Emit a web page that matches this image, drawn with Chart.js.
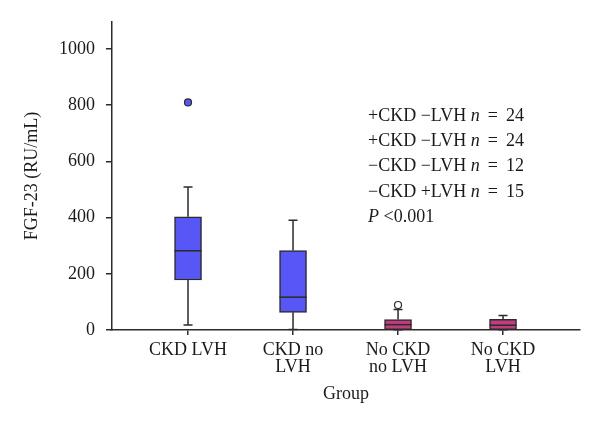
<!DOCTYPE html>
<html>
<head>
<meta charset="utf-8">
<script src="https://cdn.jsdelivr.net/npm/chart.js@4"></script>
<style>
  html, body { margin: 0; padding: 0; background: #fff; }
  #wrap { width: 600px; height: 424px; }
</style>
</head>
<body>
<div id="wrap"><canvas id="chart" width="600" height="424"></canvas></div>
<script>
// groups on the x axis
const groups = ["CKD LVH", "CKD no LVH", "No CKD no LVH", "No CKD LVH"];
const groupLines = [["CKD LVH"], ["CKD no", "LVH"], ["No CKD", "no LVH"], ["No CKD", "LVH"]];

// box plot numbers
const whiskerLow = [18, 2, 1, 1];
const q1 = [178, 63, 1, 1];
const median = [282, 117, 19, 17];
const q3 = [403, 283, 37, 38];
const whiskerHigh = [509, 391, 73, 52];

// outliers: group index + value
const outlierGroup = [0, 2];
const outlierValue = [810, 89];

const yTicks = [0, 200, 400, 600, 800, 1000];

const notes = [
  ["+CKD \u2212LVH ", "n", " \u2009=\u2009 24"],
  ["+CKD \u2212LVH ", "n", " \u2009=\u2009 24"],
  ["\u2212CKD \u2212LVH ", "n", " \u2009=\u2009 12"],
  ["\u2212CKD +LVH ", "n", " \u2009=\u2009 15"]
];

const BLUE = "#5757f7";
const PINK = "#c13d7f";
const INK = "#2b2b2b";
const SERIF = "'Liberation Serif', 'DejaVu Serif', serif";

const boxColors = groups.map((g, i) => i < 2 ? BLUE : PINK);

// whiskers + medians drawn with the chart's own scales
const whiskerPlugin = {
  id: "whiskers",
  afterDatasetsDraw(chart) {
    const ctx = chart.ctx;
    const xs = chart.scales.x, ys = chart.scales.y;
    const half = 13.5, cap = 4.5;
    ctx.save();
    ctx.strokeStyle = INK;
    ctx.lineWidth = 1.5;
    groups.forEach((g, i) => {
      const x = xs.getPixelForValue(i);
      ctx.beginPath();
      ctx.moveTo(x, ys.getPixelForValue(q3[i]));
      ctx.lineTo(x, ys.getPixelForValue(whiskerHigh[i]));
      ctx.moveTo(x - cap, ys.getPixelForValue(whiskerHigh[i]));
      ctx.lineTo(x + cap, ys.getPixelForValue(whiskerHigh[i]));
      ctx.moveTo(x, ys.getPixelForValue(q1[i]));
      ctx.lineTo(x, ys.getPixelForValue(whiskerLow[i]));
      ctx.moveTo(x - cap, ys.getPixelForValue(whiskerLow[i]));
      ctx.lineTo(x + cap, ys.getPixelForValue(whiskerLow[i]));
      ctx.stroke();
      ctx.beginPath();
      ctx.moveTo(x - half, ys.getPixelForValue(median[i]));
      ctx.lineTo(x + half, ys.getPixelForValue(median[i]));
      ctx.stroke();
    });
    ctx.restore();
  }
};

// the n = ... block in the upper right
const notesPlugin = {
  id: "notes",
  afterDraw(chart) {
    const ctx = chart.ctx;
    const x0 = 368;
    let y = 116;
    ctx.save();
    ctx.fillStyle = "#1a1a1a";
    ctx.textBaseline = "middle";
    notes.forEach(parts => {
      let x = x0;
      parts.forEach((p, k) => {
        ctx.font = (k === 1 ? "italic " : "") + "18px " + SERIF;
        ctx.fillText(p, x, y);
        x += ctx.measureText(p).width;
      });
      y += 25.3;
    });
    ctx.font = "italic 18px " + SERIF;
    ctx.fillText("P", x0, y);
    const w = ctx.measureText("P ").width;
    ctx.font = "18px " + SERIF;
    ctx.fillText("<0.001", x0 + w, y);
    ctx.restore();
  }
};

new Chart(document.getElementById("chart"), {
  type: "bar",
  data: {
    datasets: [
      {
        data: groups.map((g, i) => ({ x: i, y: [q1[i], q3[i]] })),
        backgroundColor: boxColors,
        borderColor: INK,
        borderWidth: 1.5,
        borderSkipped: false,
        barThickness: 27
      },
      {
        type: "scatter",
        data: outlierGroup.map((g, k) => ({ x: g, y: outlierValue[k] })),
        pointRadius: 3.5,
        pointBackgroundColor: outlierGroup.map(g => g < 2 ? BLUE : "#ffffff"),
        pointBorderColor: INK,
        pointBorderWidth: 1.2
      }
    ]
  },
  options: {
    responsive: false,
    animation: false,
    layout: { padding: { top: 20, right: 20, left: 0, bottom: 0 } },
    plugins: { legend: { display: false }, tooltip: { enabled: false } },
    scales: {
      x: {
        type: "linear",
        offset: false,
        min: -0.724,
        max: 3.733,
        afterBuildTicks: s => { s.ticks = groups.map((g, i) => ({ value: i })); },
        afterFit: s => { s.height = 94; },
        grid: { offset: false, drawOnChartArea: false, drawTicks: true, tickLength: 5, color: INK, lineWidth: 1.5 },
        border: { color: INK, width: 1.5 },
        ticks: {
          autoSkip: false,
          maxRotation: 0,
          padding: 7,
          color: "#1a1a1a",
          font: { family: SERIF, size: 18, lineHeight: 0.95 },
          callback: v => groupLines[v]
        },
        title: {
          display: true,
          text: "Group",
          color: "#1a1a1a",
          font: { family: SERIF, size: 18 },
          padding: { top: 0, bottom: 19 }
        }
      },
      y: {
        min: 0,
        max: 1097,
        afterBuildTicks: s => { s.ticks = yTicks.map(v => ({ value: v })); },
        afterFit: s => { s.width = 112; },
        grid: { drawOnChartArea: false, drawTicks: true, tickLength: 6, color: INK, lineWidth: 1.5 },
        border: { color: INK, width: 1.5 },
        ticks: {
          padding: 11,
          color: "#1a1a1a",
          font: { family: SERIF, size: 18 },
          callback: v => String(v)
        },
        title: {
          display: true,
          text: "FGF-23 (RU/mL)",
          color: "#1a1a1a",
          font: { family: SERIF, size: 18 },
          padding: { top: 21, bottom: 0 }
        }
      }
    }
  },
  plugins: [whiskerPlugin, notesPlugin]
});
</script>
</body>
</html>
